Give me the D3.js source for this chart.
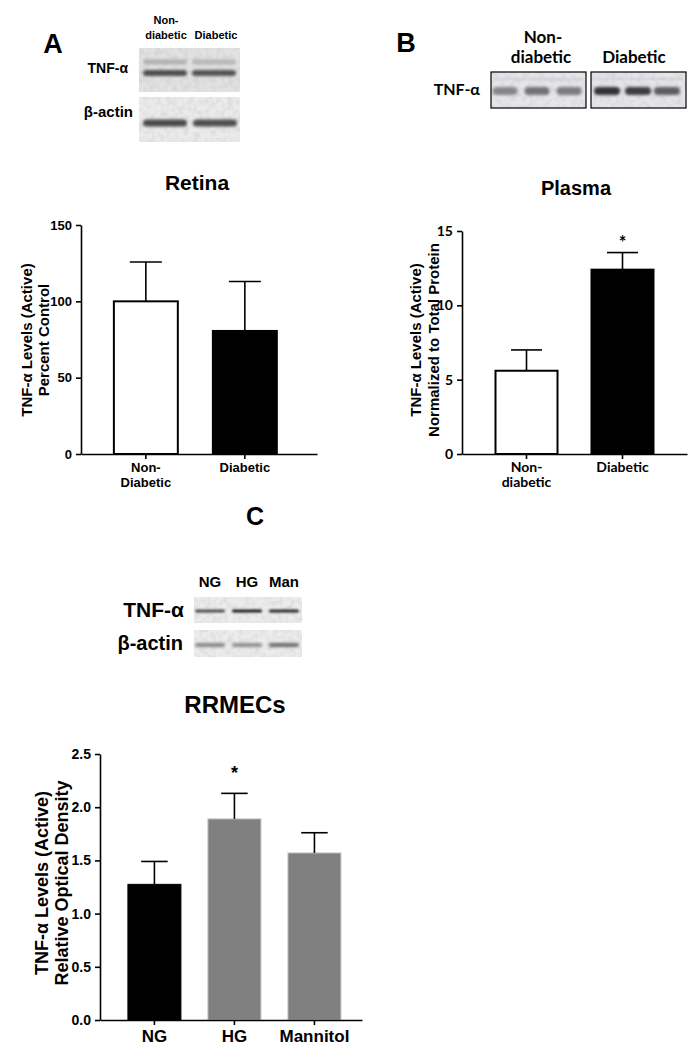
<!DOCTYPE html>
<html>
<head>
<meta charset="utf-8">
<script src="https://cdn.jsdelivr.net/npm/d3@7"></script>
<style>
body { margin: 0; background: #fff; }
svg text { font-family: "Liberation Sans", Arial, sans-serif; font-weight: bold; fill: #000; }
svg text.cal { font-family: Lato, "Open Sans", sans-serif; }
</style>
</head>
<body>
<svg id="fig" width="699" height="1050"></svg>
<script>
// ---- data ----
const retinaCats = ["Non-\nDiabetic", "Diabetic"];
const retinaMean = [100, 80.6];
const retinaSem = [25.8, 32.4];
const retinaTicks = [0, 50, 100, 150];

const plasmaCats = ["Non-\ndiabetic", "Diabetic"];
const plasmaMean = [5.6, 12.4];
const plasmaSem = [1.4, 1.15];
const plasmaTicks = [0, 5, 10, 15];

const rrmecCats = ["NG", "HG", "Mannitol"];
const rrmecMean = [1.275, 1.89, 1.57];
const rrmecSem = [0.215, 0.24, 0.19];
const rrmecTicks = [0, 0.5, 1.0, 1.5, 2.0, 2.5];

// blot band darkness per lane (0 = blank, 1 = black)
const blotA_tnfUpper = [0.25, 0.22];
const blotA_tnf = [0.72, 0.7];
const blotA_actin = [0.75, 0.72];
const blotB_non = [0.45, 0.55, 0.5];
const blotB_dia = [0.85, 0.8, 0.65];
const blotC_tnf = [0.72, 0.95, 0.9];
const blotC_actin = [0.45, 0.42, 0.58];

const svg = d3.select("#fig");
const defs = svg.append("defs");
function blurFilter(id, sd) {
	defs.append("filter").attr("id", id).attr("x", "-20%").attr("y", "-150%").attr("width", "140%").attr("height", "400%")
		.append("feGaussianBlur").attr("stdDeviation", sd);
}
blurFilter("blur", 1.8);
blurFilter("blurS", 0.8);
// speckled membrane texture
const nf = defs.append("filter").attr("id", "noise").attr("x", 0).attr("y", 0).attr("width", "100%").attr("height", "100%");
nf.append("feTurbulence").attr("type", "fractalNoise").attr("baseFrequency", 0.18).attr("numOctaves", 2).attr("seed", 4).attr("result", "t");
nf.append("feColorMatrix").attr("in", "t").attr("type", "matrix")
	.attr("values", "0 0 0 0 0.45  0 0 0 0 0.45  0 0 0 0 0.47  0.6 0 0 0 -0.22").attr("result", "c");
nf.append("feComposite").attr("in", "c").attr("in2", "SourceGraphic").attr("operator", "in");

const bandColor = d3.interpolateRgb("#e4e4e4", "#141414");

function text(g, x, y, s, size, opts = {}) {
	const t = g.append("text").attr("x", x).attr("y", y).attr("font-size", size)
		.attr("text-anchor", opts.anchor || "middle").text(s);
	if (opts.cls) t.attr("class", opts.cls);
	return t;
}

// a blot strip: background box + blurred bands
function blot(g, cfg) {
	const s = g.append("g");
	if (cfg.w) {
		s.append("rect").attr("x", cfg.x).attr("y", cfg.y).attr("width", cfg.w).attr("height", cfg.h)
			.attr("fill", cfg.bg);
		s.append("rect").attr("x", cfg.x).attr("y", cfg.y).attr("width", cfg.w).attr("height", cfg.h)
			.attr("fill", "#fff").attr("filter", "url(#noise)");
	}
	if (cfg.faint) {
		s.append("rect").attr("x", cfg.x + 3).attr("y", cfg.faint).attr("width", cfg.w - 6).attr("height", 2)
			.attr("fill", "#cfcfd4").attr("filter", "url(#blurS)");
	}
	const lanes = s.append("g").attr("filter", `url(#${cfg.filter || "blur"})`);
	lanes.selectAll("rect").data(cfg.values).join("rect")
		.attr("x", (d, i) => cfg.lanes[i] - cfg.bw / 2)
		.attr("y", cfg.by - cfg.bh / 2)
		.attr("width", cfg.bw)
		.attr("height", cfg.bh)
		.attr("rx", cfg.bh / 2)
		.attr("fill", d => bandColor(d));
	if (cfg.border) {
		s.append("rect").attr("x", cfg.x).attr("y", cfg.y).attr("width", cfg.w).attr("height", cfg.h)
			.attr("fill", "none").attr("stroke", cfg.border).attr("stroke-width", 1.2);
	}
}

// bar chart with upward error bars
function barPanel(cfg) {
	const g = svg.append("g");
	const x = d3.scaleBand().domain(cfg.cats).range([cfg.x0, cfg.x1])
		.paddingInner(cfg.pi).paddingOuter(cfg.po).align(cfg.align);
	const y = d3.scaleLinear().domain([0, d3.max(cfg.ticks)]).range([cfg.y0, cfg.y1]);

	g.selectAll("rect.bar").data(cfg.mean).join("rect").attr("class", "bar")
		.attr("x", (d, i) => x(cfg.cats[i]))
		.attr("y", d => y(d))
		.attr("width", x.bandwidth())
		.attr("height", d => cfg.y0 - y(d))
		.attr("fill", (d, i) => cfg.fills[i])
		.attr("stroke", (d, i) => cfg.strokes[i])
		.attr("stroke-width", (d, i) => cfg.sw[i]);

	const cap = x.bandwidth() * 0.25;
	const eb = g.selectAll("g.err").data(cfg.mean).join("g").attr("class", "err")
		.attr("stroke", "#000").attr("stroke-width", 1.6);
	eb.append("line")
		.attr("x1", (d, i) => x(cfg.cats[i]) + x.bandwidth() / 2)
		.attr("x2", (d, i) => x(cfg.cats[i]) + x.bandwidth() / 2)
		.attr("y1", d => y(d)).attr("y2", (d, i) => y(d + cfg.sem[i]));
	eb.append("line")
		.attr("x1", (d, i) => x(cfg.cats[i]) + x.bandwidth() / 2 - cap)
		.attr("x2", (d, i) => x(cfg.cats[i]) + x.bandwidth() / 2 + cap)
		.attr("y1", (d, i) => y(d + cfg.sem[i])).attr("y2", (d, i) => y(d + cfg.sem[i]));

	(cfg.stars || []).forEach(i => {
		text(g, x(cfg.cats[i]) + x.bandwidth() / 2, y(cfg.mean[i] + cfg.sem[i]) - cfg.starOff, "*", cfg.starSize, { cls: cfg.tickCls });
	});

	const ya = g.append("g").attr("transform", `translate(${cfg.x0},0)`)
		.call(d3.axisLeft(y).tickValues(cfg.ticks).tickSize(5).tickSizeOuter(0).tickFormat(cfg.fmt));
	const xa = g.append("g").attr("transform", `translate(0,${cfg.y0})`)
		.call(d3.axisBottom(x).tickSize(5).tickSizeOuter(0));
	[ya, xa].forEach(a => {
		a.attr("font-family", null);
		a.select(".domain").attr("stroke", "#000").attr("stroke-width", 1.6);
		a.selectAll(".tick line").attr("stroke", "#000").attr("stroke-width", 1.6);
	});
	ya.selectAll(".tick text").attr("font-size", cfg.tickSize)
		.attr("class", cfg.tickCls || null).attr("dx", -1);
	xa.selectAll(".tick text").each(function (d) {
		const t = d3.select(this).attr("font-size", cfg.xSize)
			.attr("class", cfg.xCls || null).attr("dy", null).attr("y", cfg.xBase);
		t.text(null);
		d.split("\n").forEach((line, k) => {
			t.append("tspan").attr("x", 0).attr("dy", k ? cfg.xLine : 0).text(line);
		});
	});

	text(g, cfg.titleX, cfg.titleY, cfg.title, cfg.titleSize);
	cfg.ylab.forEach((s, k) => {
		g.append("text").attr("font-size", cfg.ySize).attr("text-anchor", "middle")
			.attr("class", cfg.yCls || null)
			.attr("transform", `translate(${cfg.yLabX[k]},${cfg.yLabY}) rotate(-90)`).text(s);
	});
	return g;
}

// ---- panel A ----
text(svg, 53, 53, "A", 27);
text(svg, 166, 24, "Non-", 11);
text(svg, 166, 39, "diabetic", 11);
text(svg, 216, 39, "Diabetic", 11);
text(svg, 128, 73, "TNF-α", 14, { anchor: "end" });
text(svg, 133, 117, "β-actin", 15, { anchor: "end" });
blot(svg, { x: 139, y: 48, w: 101, h: 44, bg: "#e2e2e2", lanes: [165, 214], bw: 44, by: 62, bh: 5, values: blotA_tnfUpper });
blot(svg, { x: 139, y: 48, w: 0, h: 0, bg: "none", lanes: [165, 214], bw: 44, by: 73, bh: 6, values: blotA_tnf });
blot(svg, { x: 139, y: 97, w: 101, h: 45, bg: "#ebebeb", lanes: [165, 215], bw: 44, by: 123, bh: 7, values: blotA_actin });

barPanel({
	cats: retinaCats, mean: retinaMean, sem: retinaSem, ticks: retinaTicks,
	x0: 81, x1: 317, y0: 454, y1: 225, pi: 0.354, po: 0.369, align: 0.45,
	fills: ["#fff", "#000"], strokes: ["#000", "#000"], sw: [2, 2],
	fmt: d3.format("d"), tickSize: 13, xSize: 13, xBase: 18, xLine: 15,
	title: "Retina", titleX: 197, titleY: 190, titleSize: 21,
	ylab: ["TNF-α Levels (Active)", "Percent Control"], yLabX: [32, 49], yLabY: 340, ySize: 15
});

// ---- panel B ----
text(svg, 406, 52, "B", 27);
text(svg, 543, 43, "Non-", 17, { cls: "cal" });
text(svg, 541, 63, "diabetic", 17, { cls: "cal" });
text(svg, 634, 63, "Diabetic", 17, { cls: "cal" });
text(svg, 480, 95, "TNF-α", 16, { anchor: "end", cls: "cal" });
blot(svg, { x: 491, y: 72, w: 95, h: 36, bg: "#e6e6ea", border: "#000", faint: 78, lanes: [505, 537, 569], bw: 25, by: 91, bh: 8, values: blotB_non });
blot(svg, { x: 591, y: 72, w: 95, h: 36, bg: "#e6e6ea", border: "#000", faint: 78, lanes: [607, 638, 667], bw: 26, by: 91, bh: 8, values: blotB_dia });

barPanel({
	cats: plasmaCats, mean: plasmaMean, sem: plasmaSem, ticks: plasmaTicks,
	x0: 462, x1: 687, y0: 454, y1: 231, pi: 0.354, po: 0.349, align: 0.5,
	fills: ["#fff", "#000"], strokes: ["#000", "#000"], sw: [2, 2],
	fmt: d3.format("d"), tickSize: 14, tickCls: "cal", xSize: 14, xCls: "cal", xBase: 18, xLine: 15,
	stars: [1], starOff: 4, starSize: 18,
	title: "Plasma", titleX: 576, titleY: 195, titleSize: 20,
	ylab: ["TNF-α Levels (Active)", "Normalized to Total Protein"], yLabX: [421, 439], yLabY: 340, ySize: 15
});

// ---- panel C ----
text(svg, 255, 525, "C", 25);
text(svg, 210, 587, "NG", 15);
text(svg, 247, 587, "HG", 15);
text(svg, 284, 587, "Man", 15);
text(svg, 184, 617, "TNF-α", 21, { anchor: "end" });
text(svg, 183, 650, "β-actin", 20, { anchor: "end" });
blot(svg, { x: 194, y: 597, w: 108, h: 26, bg: "#ececec", lanes: [210, 247, 284], bw: 30, by: 611, bh: 3, values: blotC_tnf, filter: "blurS" });
blot(svg, { x: 194, y: 630, w: 108, h: 27, bg: "#ececec", lanes: [210, 247, 284], bw: 30, by: 645, bh: 4, values: blotC_actin });

barPanel({
	cats: rrmecCats, mean: rrmecMean, sem: rrmecSem, ticks: rrmecTicks,
	x0: 100, x1: 362, y0: 1020, y1: 754, pi: 0.3375, po: 0.306, align: 0.57,
	fills: ["#000", "#808080", "#808080"], strokes: ["#000", "#c4c4c4", "#c4c4c4"], sw: [1, 1, 1],
	fmt: d3.format(".1f"), tickSize: 14, xSize: 17, xBase: 22, xLine: 16,
	stars: [1], starOff: 14, starSize: 18,
	title: "RRMECs", titleX: 235, titleY: 713, titleSize: 24,
	ylab: ["TNF-α Levels (Active)", "Relative Optical Density"], yLabX: [48, 68], yLabY: 883, ySize: 18
});
</script>
</body>
</html>
